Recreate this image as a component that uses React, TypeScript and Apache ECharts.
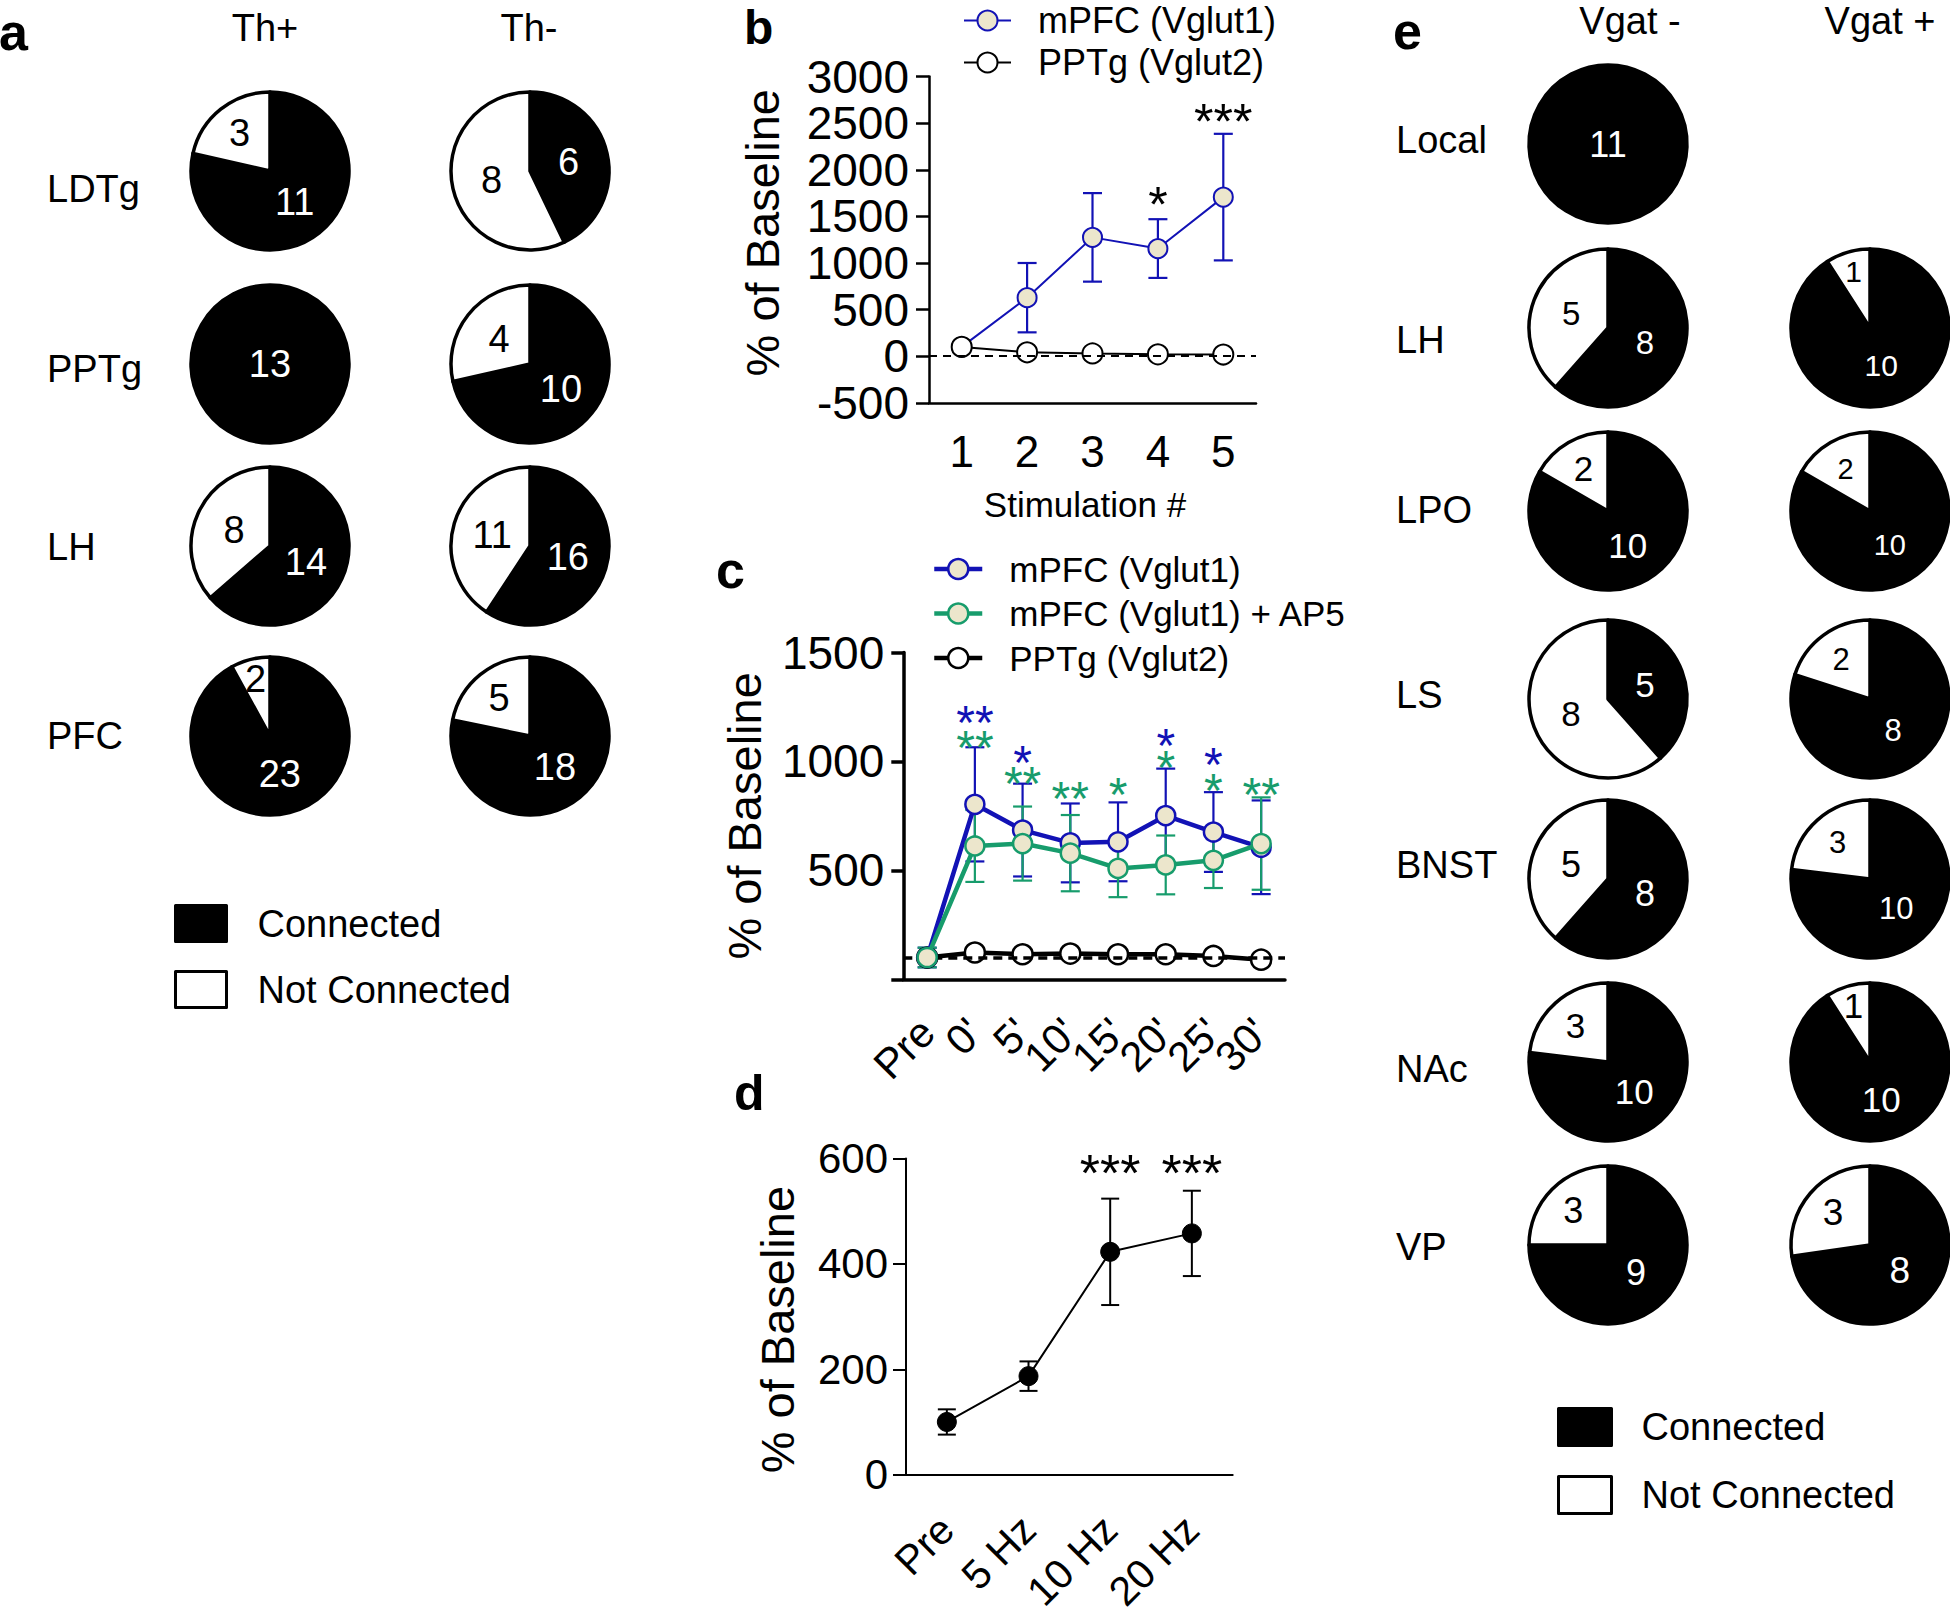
import React, { useEffect, useRef } from 'react';
import * as echarts from 'echarts';

const FONT = 'Liberation Sans';
const BLUE = '#1212B5';
const GREEN = '#179C6C';
const FILL = '#ECE6CC';
const BLACK = '#000000';

// ---------- panel a data ----------
const aColumnLabels = ['Th+', 'Th-'];
const aRegions = ['LDTg', 'PPTg', 'LH', 'PFC'];
const aThPlusConnected = [11, 13, 14, 23];
const aThPlusNotConnected = [3, 0, 8, 2];
const aThMinusConnected = [6, 10, 16, 18];
const aThMinusNotConnected = [8, 4, 11, 5];

// ---------- panel e data ----------
const eColumnLabels = ['Vgat -', 'Vgat +'];
const eRegions = ['Local', 'LH', 'LPO', 'LS', 'BNST', 'NAc', 'VP'];
const eVgatMinusConnected = [11, 8, 10, 5, 8, 10, 9];
const eVgatMinusNotConnected = [0, 5, 2, 8, 5, 3, 3];
const eVgatPlusConnected = [0, 10, 10, 8, 10, 10, 8];
const eVgatPlusNotConnected = [0, 1, 2, 2, 3, 1, 3];

const pieLegend = ['Connected', 'Not Connected'];

// ---------- panel b data ----------
const bCategories = ['1', '2', '3', '4', '5'];
const bMpfcMean = [100, 628, 1275, 1155, 1707];
const bMpfcSem = [0, 372, 475, 315, 679];
const bPptgMean = [100, 42, 30, 20, 18];
const bStarCategory = ['4', '5'];
const bStarValue = [1622, 2513];
const bStarText = ['*', '***'];

// ---------- panel c data ----------
const cCategories = ['Pre', "0'", "5'", "10'", "15'", "20'", "25'", "30'"];
const cMpfcMean = [100, 803, 685, 626, 631, 751, 676, 606];
const cMpfcSem = [45, 262, 213, 181, 181, 216, 183, 215];
const cAp5Mean = [100, 612, 623, 579, 509, 525, 546, 623];
const cAp5Sem = [45, 165, 170, 175, 132, 135, 127, 212];
const cPptgMean = [100, 123, 115, 118, 115, 115, 107, 90];
const cBlueStarCategory = ["0'", "5'", "20'", "25'"];
const cBlueStarValue = [1179, 996, 1073, 987];
const cBlueStarText = ['**', '*', '*', '*'];
const cGreenStarCategory = ["0'", "5'", "10'", "15'", "20'", "25'", "30'"];
const cGreenStarValue = [1065, 901, 832, 847, 971, 868, 847];
const cGreenStarText = ['**', '**', '**', '*', '*', '*', '**'];

// ---------- panel d data ----------
const dCategories = ['Pre', '5 Hz', '10 Hz', '20 Hz'];
const dMean = [100, 187, 423, 458];
const dSem = [24, 28, 101, 81];
const dStarCategory = ['10 Hz', '20 Hz'];
const dStarValue = [572, 572];
const dStarText = ['***', '***'];

// ---------- layout (pixels) ----------
const A_COL_X = [270, 530];
const A_HEAD_X = [265, 529];
const A_ROW_Y = [171, 364, 546, 736];
const A_LABEL_X = 47;
const A_LABEL_Y = [189, 369, 547, 736];
const E_COL_X = [1608, 1870];
const E_HEAD_X = [1630, 1880];
const E_ROW_Y = [144, 328, 511, 699, 879, 1062, 1245];
const E_LABEL_X = 1396;
const E_LABEL_Y = [140, 340, 510, 695, 865, 1069, 1247];
const E_LABEL_FONT = [[36, 0], [33, 30], [35, 29], [35, 31], [36, 31], [35, 35], [36, 37]];
const PIE_R = 79;

// fraction of the radius where a slice's number sits, by slice angle
function labelRadiusFraction(angleDeg: number) {
  if (angleDeg < 45) return 0.74;
  if (angleDeg < 100) return 0.62;
  return 0.5;
}

function pieSeries(id: string, cx: number, cy: number, connected: number, notConnected: number, fontSize: number) {
  const single = connected === 0 || notConnected === 0;
  const pos = single ? 'center' : 'inside';
  const data: any[] = [];
  const mids: number[] = [];
  const spans: number[] = [];
  const total = connected + notConnected;
  let start = 0;
  if (connected > 0) {
    data.push({ name: pieLegend[0], value: connected, itemStyle: { color: BLACK }, label: { color: '#ffffff', position: pos } });
    const span = (connected / total) * 360;
    mids.push(start + span / 2);
    spans.push(span);
    start += span;
  }
  if (notConnected > 0) {
    data.push({ name: pieLegend[1], value: notConnected, itemStyle: { color: '#ffffff' }, label: { color: BLACK, position: pos } });
    const span = (notConnected / total) * 360;
    mids.push(start + span / 2);
    spans.push(span);
    start += span;
  }
  const s: any = {
    type: 'pie',
    id,
    center: [cx, cy],
    radius: [0, PIE_R],
    startAngle: 90,
    clockwise: true,
    silent: true,
    avoidLabelOverlap: false,
    itemStyle: { borderColor: BLACK, borderWidth: 3.5 },
    label: { show: true, position: 'inside', formatter: '{c}', fontSize, fontFamily: FONT },
    labelLine: { show: false },
    emphasis: { disabled: true },
    data,
  };
  if (!single) {
    s.labelLayout = (params: any) => {
      const i = params.dataIndex;
      const a = (mids[i] * Math.PI) / 180;
      const r = labelRadiusFraction(spans[i]) * PIE_R;
      return { x: cx + r * Math.sin(a), y: cy - r * Math.cos(a), align: 'center', verticalAlign: 'middle' };
    };
  }
  return s;
}

const makeErrRender = (capW: number, color: string, width: number) => (params: any, api: any) => {
  const x = api.value(0);
  const lo = api.coord([x, api.value(1)]);
  const hi = api.coord([x, api.value(2)]);
  const style = { stroke: color, lineWidth: width, fill: null };
  const h = capW / 2;
  return {
    type: 'group',
    children: [
      { type: 'line', shape: { x1: hi[0], y1: hi[1], x2: lo[0], y2: lo[1] }, style },
      { type: 'line', shape: { x1: hi[0] - h, y1: hi[1], x2: hi[0] + h, y2: hi[1] }, style },
      { type: 'line', shape: { x1: lo[0] - h, y1: lo[1], x2: lo[0] + h, y2: lo[1] }, style },
    ],
  };
};

function errData(mean: number[], sem: number[]) {
  const out: number[][] = [];
  mean.forEach((m, i) => {
    if (sem[i] > 0) out.push([i, m - sem[i], m + sem[i]]);
  });
  return out;
}

function stars(cats: string[], vals: number[], texts: string[], color: string, fontSize: number) {
  return {
    symbol: 'circle',
    symbolSize: 1,
    silent: true,
    itemStyle: { color: 'rgba(0,0,0,0)' },
    label: {
      show: true,
      position: 'inside',
      fontSize,
      lineHeight: 18,
      fontFamily: FONT,
      color,
      formatter: (p: any) => p.name,
    },
    data: cats.map((c, k) => ({ name: texts[k], coord: [c, vals[k]] })),
  };
}

function txt(text: string, x: number, y: number, fontSize: number, align = 'left', weight = 'normal') {
  return {
    type: 'text',
    x,
    y,
    silent: true,
    style: {
      text,
      fontSize,
      fontFamily: FONT,
      fontWeight: weight,
      fill: BLACK,
      align,
      verticalAlign: 'middle',
    },
  };
}

function buildOption() {
  const axisLabelBase = { color: BLACK, fontFamily: FONT };
  const plain = (v: number) => String(v);

  const series: any[] = [];

  // ---- pies panel a ----
  for (let r = 0; r < aRegions.length; r++) {
    series.push(pieSeries('a+' + r, A_COL_X[0], A_ROW_Y[r], aThPlusConnected[r], aThPlusNotConnected[r], 38));
    series.push(pieSeries('a-' + r, A_COL_X[1], A_ROW_Y[r], aThMinusConnected[r], aThMinusNotConnected[r], 38));
  }
  // ---- pies panel e ----
  for (let r = 0; r < eRegions.length; r++) {
    series.push(pieSeries('e-' + r, E_COL_X[0], E_ROW_Y[r], eVgatMinusConnected[r], eVgatMinusNotConnected[r], E_LABEL_FONT[r][0]));
    if (eVgatPlusConnected[r] + eVgatPlusNotConnected[r] > 0) {
      series.push(pieSeries('e+' + r, E_COL_X[1], E_ROW_Y[r], eVgatPlusConnected[r], eVgatPlusNotConnected[r], E_LABEL_FONT[r][1]));
    }
  }

  // ---- panel b ----
  series.push({
    type: 'custom', name: 'errB', xAxisIndex: 0, yAxisIndex: 0, z: 2, silent: true,
    renderItem: makeErrRender(19, BLUE, 2.2),
    encode: { x: 0, y: [1, 2] },
    data: errData(bMpfcMean, bMpfcSem),
  });
  series.push({
    type: 'line', name: 'mPFC (Vglut1)', xAxisIndex: 0, yAxisIndex: 0, z: 3,
    data: bMpfcMean, symbol: 'circle', symbolSize: 19,
    lineStyle: { color: BLUE, width: 2 },
    itemStyle: { color: FILL, borderColor: BLUE, borderWidth: 2 },
    markPoint: stars(bStarCategory, bStarValue, bStarText, BLACK, 50),
  });
  series.push({
    type: 'line', name: 'PPTg (Vglut2)', xAxisIndex: 0, yAxisIndex: 0, z: 4,
    data: bPptgMean, symbol: 'circle', symbolSize: 20,
    lineStyle: { color: BLACK, width: 2 },
    itemStyle: { color: '#ffffff', borderColor: BLACK, borderWidth: 2 },
    markLine: {
      silent: true, symbol: ['none', 'none'], label: { show: false },
      lineStyle: { color: BLACK, width: 2, type: [8, 6] },
      data: [{ yAxis: 0 }],
    },
  });

  // ---- panel c ----
  series.push({
    type: 'custom', name: 'errCblue', xAxisIndex: 1, yAxisIndex: 1, z: 2, silent: true,
    renderItem: makeErrRender(19, BLUE, 2.2),
    encode: { x: 0, y: [1, 2] },
    data: errData(cMpfcMean, cMpfcSem),
  });
  series.push({
    type: 'custom', name: 'errCgreen', xAxisIndex: 1, yAxisIndex: 1, z: 2, silent: true,
    renderItem: makeErrRender(19, GREEN, 2.2),
    encode: { x: 0, y: [1, 2] },
    data: errData(cAp5Mean, cAp5Sem),
  });
  series.push({
    type: 'line', name: 'PPTg (Vglut2)', xAxisIndex: 1, yAxisIndex: 1, z: 3,
    data: cPptgMean, symbol: 'circle', symbolSize: 20,
    lineStyle: { color: BLACK, width: 4.5 },
    itemStyle: { color: '#ffffff', borderColor: BLACK, borderWidth: 2.5 },
    markLine: {
      silent: true, symbol: ['none', 'none'], label: { show: false },
      lineStyle: { color: BLACK, width: 3.5, type: [9, 6] },
      data: [{ yAxis: 100 }],
    },
  });
  series.push({
    type: 'line', name: 'mPFC (Vglut1)', xAxisIndex: 1, yAxisIndex: 1, z: 4,
    data: cMpfcMean, symbol: 'circle', symbolSize: 19,
    lineStyle: { color: BLUE, width: 4.5 },
    itemStyle: { color: FILL, borderColor: BLUE, borderWidth: 2.5 },
    markPoint: stars(cBlueStarCategory, cBlueStarValue, cBlueStarText, BLUE, 48),
  });
  series.push({
    type: 'line', name: 'mPFC (Vglut1) + AP5', xAxisIndex: 1, yAxisIndex: 1, z: 5,
    data: cAp5Mean, symbol: 'circle', symbolSize: 19,
    lineStyle: { color: GREEN, width: 4.5 },
    itemStyle: { color: FILL, borderColor: GREEN, borderWidth: 2.5 },
    markPoint: stars(cGreenStarCategory, cGreenStarValue, cGreenStarText, GREEN, 48),
  });

  // ---- panel d ----
  series.push({
    type: 'custom', name: 'errD', xAxisIndex: 2, yAxisIndex: 2, z: 2, silent: true,
    renderItem: makeErrRender(18, BLACK, 2),
    encode: { x: 0, y: [1, 2] },
    data: errData(dMean, dSem),
  });
  series.push({
    type: 'line', name: 'd', xAxisIndex: 2, yAxisIndex: 2, z: 3,
    data: dMean, symbol: 'circle', symbolSize: 19,
    lineStyle: { color: BLACK, width: 2 },
    itemStyle: { color: BLACK, borderColor: BLACK, borderWidth: 1 },
    markPoint: stars(dStarCategory, dStarValue, dStarText, BLACK, 52),
  });

  // ---- graphic texts ----
  const elements: any[] = [];
  elements.push(txt('a', -1, 32, 52, 'left', 'bold'));
  elements.push(txt('b', 744, 27, 48, 'left', 'bold'));
  elements.push(txt('c', 716, 570, 52, 'left', 'bold'));
  elements.push(txt('d', 734, 1093, 50, 'left', 'bold'));
  elements.push(txt('e', 1393, 31, 52, 'left', 'bold'));
  aColumnLabels.forEach((t, i) => elements.push(txt(t, A_HEAD_X[i], 28, 38, 'center')));
  aRegions.forEach((t, i) => elements.push(txt(t, A_LABEL_X, A_LABEL_Y[i], 38)));
  eColumnLabels.forEach((t, i) => elements.push(txt(t, E_HEAD_X[i], 21, 38, 'center')));
  eRegions.forEach((t, i) => elements.push(txt(t, E_LABEL_X, E_LABEL_Y[i], 38)));

  const pieLegendCommon = {
    orient: 'vertical', icon: 'rect', selectedMode: false, padding: 0,
    itemStyle: { borderColor: BLACK, borderWidth: 3 },
    data: pieLegend,
  };

  return {
    animation: false,
    backgroundColor: '#ffffff',
    textStyle: { fontFamily: FONT, color: BLACK },
    grid: [
      { left: 929, top: 76.6, width: 327, height: 326.2 },
      { left: 903.3, top: 652.5, width: 381.7, height: 326.8 },
      { left: 906, top: 1158.6, width: 326.7, height: 329 },
    ],
    xAxis: [
      {
        type: 'category', gridIndex: 0, data: bCategories, boundaryGap: true,
        axisLine: { onZero: false, lineStyle: { color: BLACK, width: 2.5 } },
        axisTick: { alignWithLabel: true, interval: 0, length: 14, lineStyle: { color: BLACK, width: 2.5 } },
        axisLabel: { ...axisLabelBase, interval: 0, fontSize: 44, margin: 27 },
        name: 'Stimulation #', nameLocation: 'middle', nameGap: 84,
        nameTextStyle: { fontSize: 35, color: BLACK, fontFamily: FONT, padding: [0, 15, 0, 0] },
      },
      {
        type: 'category', gridIndex: 1, data: cCategories, boundaryGap: true,
        axisLine: { onZero: false, lineStyle: { color: BLACK, width: 3.5 } },
        axisTick: { alignWithLabel: true, interval: 0, length: 14, lineStyle: { color: BLACK, width: 3.5 } },
        axisLabel: { ...axisLabelBase, interval: 0, fontSize: 42, margin: 46, rotate: 45 },
      },
      {
        type: 'category', gridIndex: 2, data: dCategories, boundaryGap: true,
        axisLine: { onZero: false, lineStyle: { color: BLACK, width: 2 } },
        axisTick: { alignWithLabel: true, interval: 0, length: 13, lineStyle: { color: BLACK, width: 2 } },
        axisLabel: { ...axisLabelBase, interval: 0, fontSize: 41, margin: 48, rotate: 45 },
      },
    ],
    yAxis: [
      {
        type: 'value', gridIndex: 0, min: -500, max: 3000, interval: 500,
        axisLine: { show: true, lineStyle: { color: BLACK, width: 2.5 } },
        axisTick: { show: true, length: 13, lineStyle: { color: BLACK, width: 2.5 } },
        splitLine: { show: false },
        axisLabel: { ...axisLabelBase, fontSize: 46, margin: 20, formatter: plain },
        name: '% of Baseline', nameLocation: 'middle', nameRotate: 90, nameGap: 143,
        nameTextStyle: { fontSize: 47, color: BLACK, fontFamily: FONT, padding: [0, 0, 0, 14] },
      },
      {
        type: 'value', gridIndex: 1, min: 0, max: 1500, interval: 500,
        axisLine: { show: true, lineStyle: { color: BLACK, width: 3.5 } },
        axisTick: { show: true, length: 12, lineStyle: { color: BLACK, width: 3.5 } },
        splitLine: { show: false },
        axisLabel: { ...axisLabelBase, fontSize: 46, margin: 19, formatter: (v: number) => (v === 0 ? '' : String(v)) },
        name: '% of Baseline', nameLocation: 'middle', nameRotate: 90, nameGap: 135,
        nameTextStyle: { fontSize: 47, color: BLACK, fontFamily: FONT },
      },
      {
        type: 'value', gridIndex: 2, min: 0, max: 600, interval: 200,
        axisLine: { show: true, lineStyle: { color: BLACK, width: 2 } },
        axisTick: { show: true, length: 13, lineStyle: { color: BLACK, width: 2 } },
        splitLine: { show: false },
        axisLabel: { ...axisLabelBase, fontSize: 42, margin: 18, formatter: plain },
        name: '% of Baseline', nameLocation: 'middle', nameRotate: 90, nameGap: 105,
        nameTextStyle: { fontSize: 47, color: BLACK, fontFamily: FONT, padding: [0, 26, 0, 0] },
      },
    ],
    legend: [
      {
        ...pieLegendCommon, left: 174, top: 904, itemWidth: 51, itemHeight: 36, itemGap: 27,
        textStyle: { fontSize: 38, color: BLACK, fontFamily: FONT, padding: [0, 0, 0, 26] },
      },
      {
        ...pieLegendCommon, left: 1557, top: 1407, itemWidth: 53, itemHeight: 37, itemGap: 28,
        textStyle: { fontSize: 38, color: BLACK, fontFamily: FONT, padding: [0, 0, 0, 25] },
      },
      {
        orient: 'vertical', selectedMode: false, padding: 0, left: 963, top: 2.5,
        itemWidth: 47, itemHeight: 25, itemGap: 6,
        textStyle: { fontSize: 36, color: BLACK, fontFamily: FONT, padding: [0, 0, 0, 22] },
        data: [
          { name: 'mPFC (Vglut1)', itemStyle: { color: FILL, borderColor: BLUE, borderWidth: 2 }, lineStyle: { color: BLUE, width: 2 } },
          { name: 'PPTg (Vglut2)', itemStyle: { color: '#ffffff', borderColor: BLACK, borderWidth: 2 }, lineStyle: { color: BLACK, width: 2 } },
        ],
      },
      {
        orient: 'vertical', selectedMode: false, padding: 0, left: 932, top: 551.5,
        itemWidth: 48, itemHeight: 25, itemGap: 9.5,
        textStyle: { fontSize: 35, color: BLACK, fontFamily: FONT, padding: [0, 0, 0, 22] },
        data: [
          { name: 'mPFC (Vglut1)', itemStyle: { color: FILL, borderColor: BLUE, borderWidth: 2.5 }, lineStyle: { color: BLUE, width: 4.5 } },
          { name: 'mPFC (Vglut1) + AP5', itemStyle: { color: FILL, borderColor: GREEN, borderWidth: 2.5 }, lineStyle: { color: GREEN, width: 4.5 } },
          { name: 'PPTg (Vglut2)', itemStyle: { color: '#ffffff', borderColor: BLACK, borderWidth: 2.5 }, lineStyle: { color: BLACK, width: 4.5 } },
        ],
      },
    ],
    graphic: { elements },
    series,
  };
}

export default function App() {
  const ref = useRef<HTMLDivElement>(null);
  useEffect(() => {
    if (!ref.current) return;
    const chart = echarts.init(ref.current, null, { renderer: 'svg', width: 1950, height: 1615 });
    chart.setOption(buildOption() as any);
    return () => {
      chart.dispose();
    };
  }, []);
  return (
    <div
      ref={ref}
      style={{ position: 'absolute', left: 0, top: 0, width: 1950, height: 1615, background: '#ffffff' }}
    />
  );
}
